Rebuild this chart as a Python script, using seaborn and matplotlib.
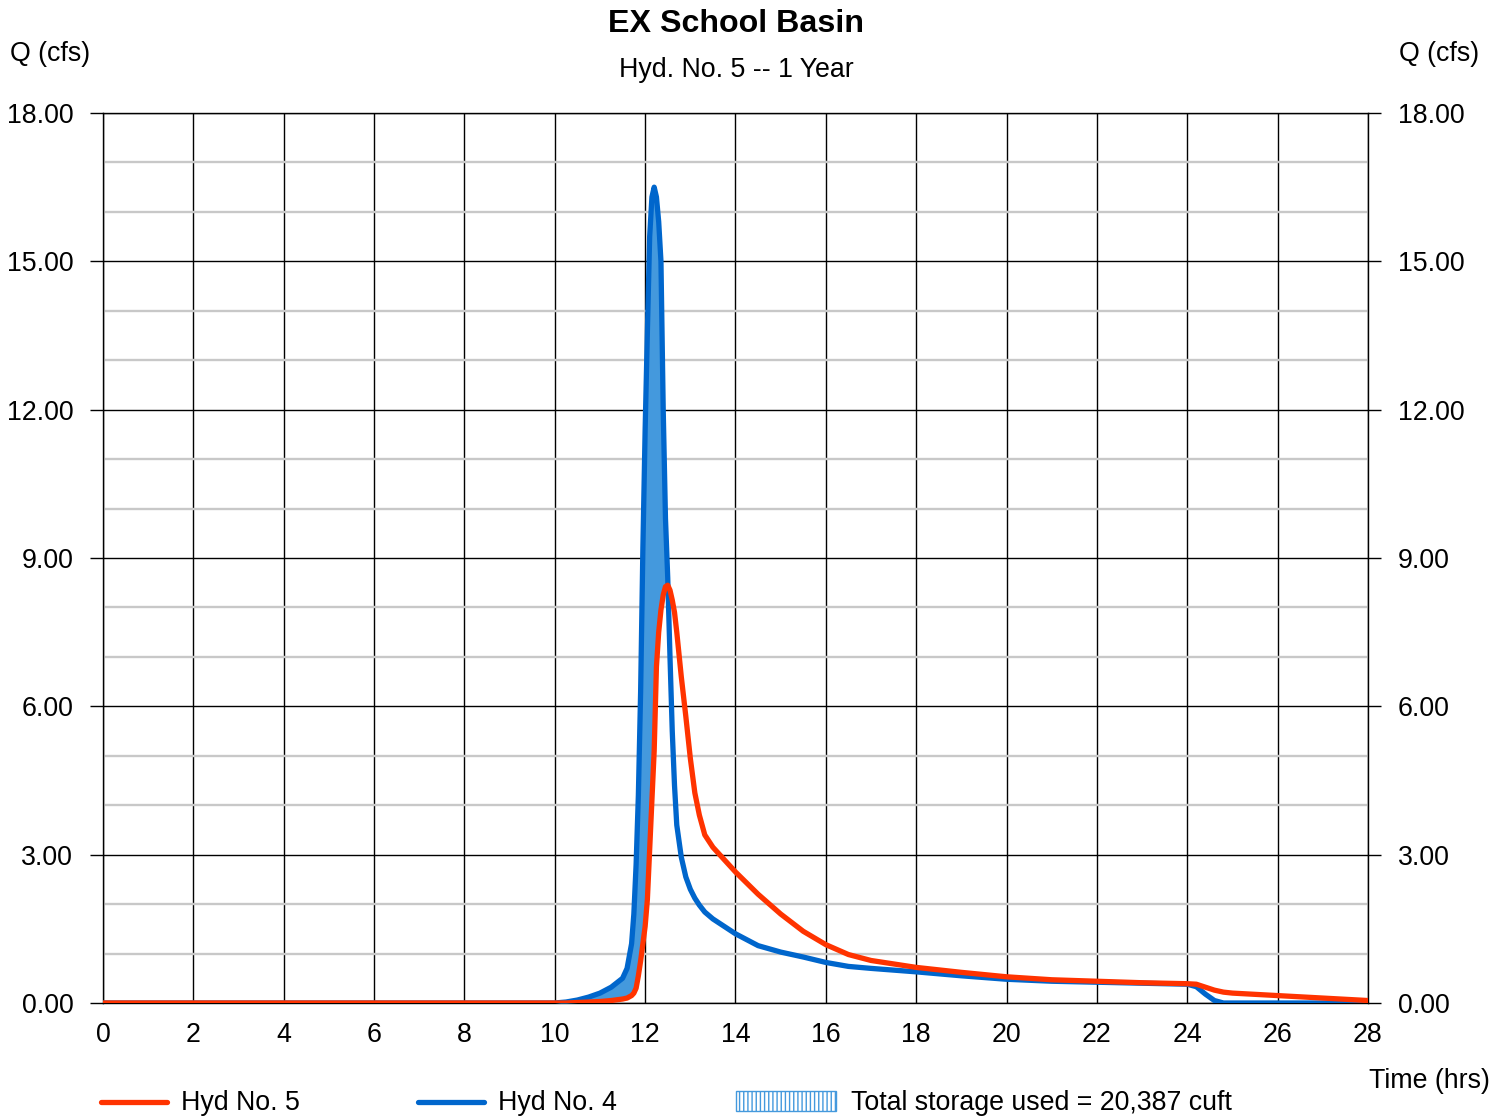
import numpy as np
import pandas as pd
import matplotlib
matplotlib.use("Agg")
import matplotlib.pyplot as plt
import seaborn as sns
from matplotlib.lines import Line2D
from matplotlib.patches import Rectangle
from matplotlib.ticker import MultipleLocator, FormatStrFormatter

# ---- data ----
time_hrs = [0.0, 10.0, 10.25, 10.5, 10.75, 11.0, 11.25, 11.5, 11.6, 11.7, 11.75, 11.8, 11.85,
            11.9, 11.95, 12.0, 12.05, 12.1, 12.15, 12.2, 12.25, 12.3, 12.35, 12.4, 12.45,
            12.5, 12.55, 12.6, 12.65, 12.7, 12.8, 12.9, 13.0, 13.1, 13.2, 13.32, 13.5,
            14.0, 14.5, 15.0, 15.5, 16.0, 16.5, 17.0, 18.0, 19.0, 20.0, 21.0, 22.0, 23.0,
            24.0, 24.2, 24.4, 24.6, 24.8, 25.0, 26.0, 27.0, 28.0]
hyd4_inflow = [0.0, 0.0, 0.02, 0.06, 0.12, 0.2, 0.32, 0.5, 0.7, 1.2, 1.8, 2.8, 4.2,
               6.3, 9.2, 11.6, 13.6, 15.5, 16.3, 16.5, 16.3, 15.8, 15.0, 12.0, 9.8,
               8.6, 7.0, 5.5, 4.4, 3.6, 2.95, 2.55, 2.3, 2.12, 1.98, 1.84, 1.7,
               1.4, 1.16, 1.03, 0.93, 0.82, 0.74, 0.7, 0.63, 0.55, 0.48, 0.44, 0.42, 0.40,
               0.38, 0.33, 0.18, 0.05, 0.0, 0.0, 0.0, 0.0, 0.0]
hyd5_outflow = [0.0, 0.0, 0.0, 0.01, 0.02, 0.03, 0.05, 0.08, 0.1, 0.15, 0.2, 0.3, 0.55,
                0.85, 1.2, 1.55, 2.1, 3.1, 4.1, 5.1, 6.8, 7.5, 7.95, 8.25, 8.42,
                8.45, 8.35, 8.15, 7.9, 7.5, 6.6, 5.8, 4.95, 4.25, 3.8, 3.4, 3.15,
                2.65, 2.2, 1.8, 1.45, 1.18, 0.98, 0.86, 0.72, 0.62, 0.53, 0.47, 0.44, 0.41,
                0.39, 0.38, 0.32, 0.26, 0.22, 0.2, 0.15, 0.1, 0.05]
x_ticks = list(range(0, 29, 2))
y_major = [0, 3, 6, 9, 12, 15, 18]

title = "EX School Basin"
subtitle = "Hyd. No. 5 -- 1 Year"
legend_labels = ["Hyd No. 5", "Hyd No. 4", "Total storage used = 20,387 cuft"]

RED = "#FF3300"
BLUE = "#0066CC"
FILL = "#4499DD"
FS = 19.3

df = pd.DataFrame({"t": time_hrs, "q4": hyd4_inflow, "q5": hyd5_outflow})

sns.set_theme(style="white")
plt.rcParams["font.family"] = ["Liberation Sans", "DejaVu Sans"]
plt.rcParams["text.color"] = "black"

W, H = 1509, 1116
fig = plt.figure(figsize=(W / 100, H / 100), dpi=100)
ax = fig.add_axes([103 / W, 1 - 1003 / H, (1368 - 103) / W, (1003 - 113) / H])

# storage fill
t = np.array(time_hrs); q4 = np.array(hyd4_inflow); q5 = np.array(hyd5_outflow)
ax.fill_between(t, q5, q4, where=q4 >= q5, interpolate=True, color=FILL, lw=0, zorder=2)

sns.lineplot(data=df, x="t", y="q4", color=BLUE, lw=3.8, ax=ax, zorder=3,
             solid_capstyle="round", solid_joinstyle="round")
sns.lineplot(data=df, x="t", y="q5", color=RED, lw=3.8, ax=ax, zorder=4,
             solid_capstyle="round", solid_joinstyle="round")

ax.set_xlim(0, 28)
ax.set_ylim(0, 18)
ax.set_xticks(x_ticks)
ax.set_yticks(y_major)
ax.yaxis.set_minor_locator(MultipleLocator(1))
ax.yaxis.set_major_formatter(FormatStrFormatter("%.2f"))
ax.set_xlabel("")
ax.set_ylabel("")

ax.grid(True, which="major", axis="both", color="black", lw=1.0, zorder=1)
ax.grid(True, which="minor", axis="y", color="#C8C8C8", lw=1.7, zorder=0.5)
ax.set_axisbelow(True)
for s in ax.spines.values():
    s.set_color("black")
    s.set_linewidth(1.0)
    s.set_zorder(1)

ax.tick_params(axis="x", which="both", length=0, pad=14, labelsize=FS, colors="black")
ax.tick_params(axis="y", which="major", left=True, right=True, labelleft=True, labelright=True,
               length=9.4, width=1.0, pad=12, labelsize=FS, colors="black", direction="out")
ax.tick_params(axis="y", which="minor", length=0)

# titles and axis labels
fig.text(736 / W, 1 - 24 / H, title, ha="center", va="center", fontsize=23.2,
         fontweight="bold", color="black")
fig.text(736 / W, 1 - 70 / H, subtitle, ha="center", va="center", fontsize=FS, color="black")
fig.text(10 / W, 1 - 54 / H, "Q (cfs)", ha="left", va="center", fontsize=FS, color="black")
fig.text(1479 / W, 1 - 54 / H, "Q (cfs)", ha="right", va="center", fontsize=FS, color="black")
fig.text(1490 / W, 1 - 1081 / H, "Time (hrs)", ha="right", va="center", fontsize=FS, color="black")

# legend (manual)
ly = 1 - 1102 / H
fig.add_artist(Line2D([101 / W, 167 / W], [ly, ly], color=RED, lw=3.8, solid_capstyle="round"))
fig.text(181 / W, 1 - 1103 / H, legend_labels[0], ha="left", va="center", fontsize=FS, color="black")
fig.add_artist(Line2D([418 / W, 484 / W], [ly, ly], color=BLUE, lw=3.8, solid_capstyle="round"))
fig.text(498 / W, 1 - 1103 / H, legend_labels[1], ha="left", va="center", fontsize=FS, color="black")
plt.rcParams["hatch.linewidth"] = 1.0
rect = Rectangle((736 / W, 1 - 1111 / H), 100 / W, 20 / H, transform=fig.transFigure,
                 facecolor="white", edgecolor=FILL, hatch="||||", lw=1.0)
fig.add_artist(rect)
fig.text(851 / W, 1 - 1103 / H, legend_labels[2], ha="left", va="center", fontsize=FS, color="black")

fig.savefig("out.png", dpi=100, facecolor="white")
